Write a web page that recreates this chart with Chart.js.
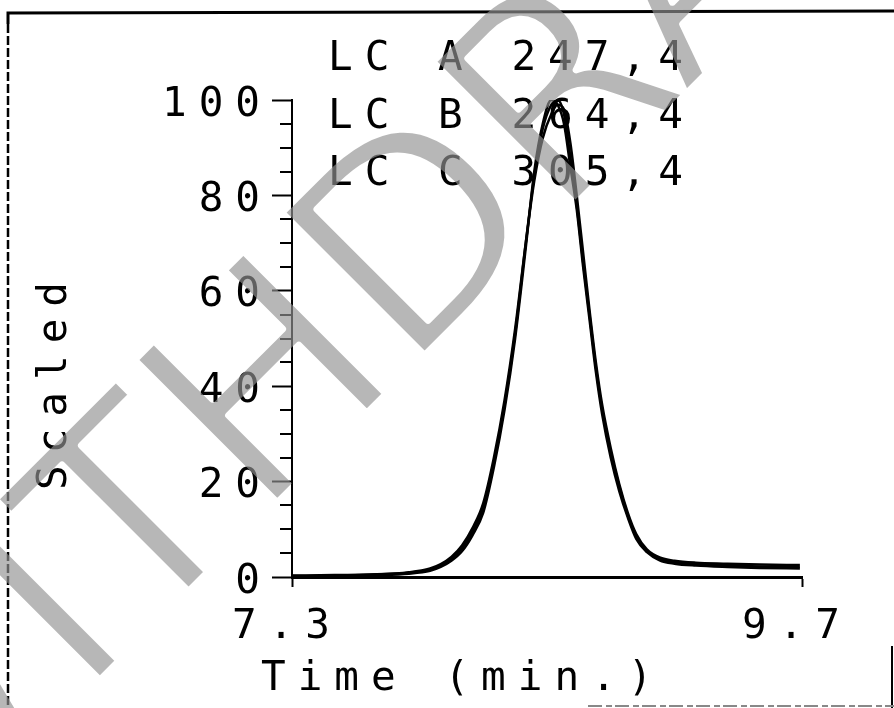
<!DOCTYPE html>
<html>
<head>
<meta charset="utf-8">
<script src="https://cdn.jsdelivr.net/npm/chart.js@4.4.1/dist/chart.umd.min.js"></script>
<style>
  html, body { margin: 0; padding: 0; background: #fff; }
  #wrap { width: 894px; height: 708px; position: relative; }
</style>
</head>
<body>
<div id="wrap"><canvas id="chromChart"></canvas></div>
<script>
/* ---- data ---- */
const times = [7.30, 7.50, 7.70, 7.85, 7.95, 8.00, 8.05, 8.10, 8.15, 8.20, 8.25, 8.30, 8.35, 8.40, 8.44, 8.48,
               8.52, 8.55, 8.58, 8.61, 8.64, 8.67, 8.70, 8.73, 8.76, 8.80, 8.84, 8.88, 8.92, 8.97, 9.03, 9.10,
               9.20, 9.35, 9.50, 9.69];
const lcA = [0.3, 0.4, 0.6, 0.9, 1.6, 2.4, 3.8, 6.0, 9.5, 14.5, 24, 36, 51, 70, 84, 94,
             99, 100, 97, 88, 78, 66, 55, 44, 35, 26, 19, 13, 8.5, 5.5, 3.8, 3.1,
             2.7, 2.4, 2.2, 2.1];
const lcB = [0.2, 0.3, 0.5, 1.0, 1.8, 2.7, 4.2, 6.6, 10.3, 15.5, 25, 37, 52, 70, 83, 92,
             97, 99, 98, 91, 80, 68, 56, 45, 36, 27, 19.5, 13.5, 9, 5.8, 4.1, 3.4,
             3.0, 2.8, 2.6, 2.5];
const lcC = [0.1, 0.2, 0.4, 0.7, 1.3, 2.1, 3.4, 5.4, 8.8, 13.5, 23, 35, 50, 69, 85, 95,
             100, 99, 95, 86, 77, 65, 54, 43, 34, 25, 18, 12.5, 8, 5.2, 3.5, 2.8,
             2.4, 2.1, 1.9, 1.8];
const seriesLabels = ['LC A 247,4', 'LC B 264,4', 'LC C 305,4'];
const xTicks = [7.3, 9.7];
const yMinorTicks = [5, 10, 15, 25, 30, 35, 45, 50, 55, 65, 70, 75, 85, 90, 95];
const xTitle = 'Time (min.)';
const yTitle = 'Scaled';
const watermark = 'WITHDRAWN';

const MONO = '"DejaVu Sans Mono", "Liberation Mono", monospace';
const SPACING = '12px';

const toPoints = vals => vals.map((v, i) => ({ x: times[i], y: v }));

/* ---- letter spacing, frame, labels, stamp ---- */
const scanLook = {
  id: 'scanLook',
  beforeDraw(chart) {
    const ctx = chart.ctx;
    ctx.letterSpacing = SPACING;
    ctx.save();
    ctx.fillStyle = '#fff';
    ctx.fillRect(0, 0, chart.width, chart.height);
    ctx.strokeStyle = '#000';
    ctx.lineWidth = 3;
    ctx.beginPath();
    ctx.moveTo(8, 24); ctx.lineTo(8, 13); ctx.lineTo(894, 11);
    ctx.stroke();
    ctx.lineWidth = 2.5;
    ctx.setLineDash([9, 3]);
    ctx.beginPath(); ctx.moveTo(8, 24); ctx.lineTo(8, 708); ctx.stroke();
    ctx.setLineDash([]);
    ctx.lineWidth = 2;
    ctx.beginPath(); ctx.moveTo(892, 646); ctx.lineTo(892, 708); ctx.stroke();
    ctx.strokeStyle = '#888';
    ctx.setLineDash([14, 4, 6, 3]);
    ctx.beginPath(); ctx.moveTo(588, 706); ctx.lineTo(894, 706); ctx.stroke();
    ctx.restore();
  },
  afterDraw(chart) {
    const ctx = chart.ctx;
    const y = chart.scales.y;
    // minor ticks on the y axis
    ctx.save();
    ctx.strokeStyle = '#000';
    ctx.lineWidth = 2;
    yMinorTicks.forEach(v => {
      const py = Math.round(y.getPixelForValue(v));
      ctx.beginPath();
      ctx.moveTo(y.right - 12, py);
      ctx.lineTo(y.right, py);
      ctx.stroke();
    });

    ctx.fillStyle = '#000';
    ctx.font = '41px ' + MONO;
    ctx.textAlign = 'left';
    ctx.textBaseline = 'alphabetic';
    chart.data.datasets.forEach((ds, i) => {
      ctx.fillText(ds.label, 328, 70 + i * 57.5);
    });
    ctx.fillText(xTitle, 261, 690);

    ctx.translate(66, 380);
    ctx.rotate(-Math.PI / 2);
    ctx.textAlign = 'center';
    ctx.fillText(yTitle, 0, 0);
    ctx.restore();

    // watermark stamp over the scan (drawn apart, then thinned a bit)
    const off = document.createElement('canvas');
    off.width = chart.width;
    off.height = chart.height;
    const o = off.getContext('2d');
    o.translate(-113, 893);
    o.rotate(-Math.PI / 4);
    o.font = '277px "DejaVu Sans"';
    o.textAlign = 'left';
    o.textBaseline = 'alphabetic';
    o.fillStyle = 'rgba(145,145,145,0.66)';
    o.fillText(watermark, 0, 0);
    o.globalCompositeOperation = 'destination-out';
    o.lineWidth = 7;
    o.lineJoin = 'round';
    o.strokeStyle = '#000';
    o.strokeText(watermark, 0, 0);
    ctx.drawImage(off, 0, 0);
  }
};

const lineStyle = {
  borderColor: '#000',
  borderWidth: 2.5,
  pointRadius: 0,
  fill: false,
  cubicInterpolationMode: 'monotone'
};

new Chart(document.getElementById('chromChart'), {
  type: 'line',
  data: {
    datasets: [
      { ...lineStyle, label: seriesLabels[0], data: toPoints(lcA) },
      { ...lineStyle, label: seriesLabels[1], data: toPoints(lcB) },
      { ...lineStyle, label: seriesLabels[2], data: toPoints(lcC) },
    ],
  },
  options: {
    responsive: true,
    maintainAspectRatio: false,
    animation: false,
    devicePixelRatio: 1,
    layout: { padding: { top: 100, right: 92, left: 0, bottom: 0 } },
    plugins: { legend: { display: false }, tooltip: { enabled: false } },
    scales: {
      x: {
        type: 'linear',
        min: 7.3, max: 9.7,
        afterBuildTicks: s => { s.ticks = xTicks.map(v => ({ value: v })); },
        afterFit: s => { s.height = 131; },
        border: { color: '#000', width: 3 },
        grid: { drawOnChartArea: false, tickLength: 10, tickWidth: 2, color: '#000' },
        ticks: {
          color: '#000', font: { family: MONO, size: 41 }, padding: 16,
          labelOffset: -5, maxRotation: 0,
          callback: v => v.toFixed(1),
        },
      },
      y: {
        min: 0, max: 100,
        afterFit: s => { s.width = 292; },
        border: { color: '#000', width: 2 },
        grid: { drawOnChartArea: false, tickLength: 20, tickWidth: 2, color: '#000' },
        ticks: {
          stepSize: 20, color: '#000', font: { family: MONO, size: 41 },
          padding: 0, labelOffset: 5,
        },
      },
    },
  },
  plugins: [scanLook],
});
</script>
</body>
</html>
